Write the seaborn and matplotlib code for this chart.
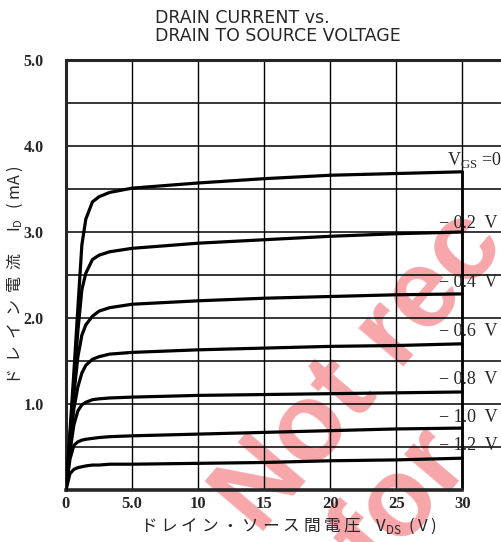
import pandas as pd
import seaborn as sns
from matplotlib import pyplot as plt

# drain voltage points (V) shared by all curves
vds = [0, 0.3, 0.6, 0.9, 1.2, 1.5, 2.0, 2.5, 3.3, 5, 10, 15, 20, 25, 30]

# drain current (mA) for each gate-source voltage
id_0 = [0, 0.68, 1.38, 2.12, 2.85, 3.15, 3.35, 3.41, 3.46, 3.51, 3.57, 3.62, 3.66, 3.68, 3.70]
id_02 = [0, 0.62, 1.25, 1.85, 2.33, 2.52, 2.68, 2.73, 2.77, 2.81, 2.87, 2.91, 2.95, 2.98, 3.00]
id_04 = [0, 0.58, 1.12, 1.55, 1.80, 1.92, 2.02, 2.08, 2.12, 2.16, 2.20, 2.23, 2.25, 2.27, 2.28]
id_06 = [0, 0.52, 0.95, 1.20, 1.36, 1.45, 1.52, 1.55, 1.58, 1.60, 1.63, 1.65, 1.67, 1.68, 1.70]
id_08 = [0, 0.45, 0.76, 0.92, 0.99, 1.02, 1.05, 1.06, 1.07, 1.08, 1.10, 1.11, 1.12, 1.13, 1.14]
id_10 = [0, 0.36, 0.52, 0.56, 0.58, 0.59, 0.60, 0.61, 0.62, 0.63, 0.65, 0.67, 0.69, 0.71, 0.72]
id_12 = [0, 0.19, 0.24, 0.26, 0.27, 0.28, 0.29, 0.29, 0.30, 0.30, 0.31, 0.32, 0.34, 0.35, 0.37]

vgs_names = ["0", "-0.2", "-0.4", "-0.6", "-0.8", "-1.0", "-1.2"]
curves = [id_0, id_02, id_04, id_06, id_08, id_10, id_12]

# curve labels and where they sit (V, mA)
label_texts = ["V$_{\\mathregular{GS}}$ =0", "\u2212 0.2  V", "\u2212 0.4  V", "\u2212 0.6  V",
               "\u2212 0.8  V", "\u2212 1.0  V", "\u2212 1.2  V"]
label_x = [28.8, 28.2, 28.2, 28.2, 28.2, 28.2, 28.2]
label_y = [3.84, 3.10, 2.41, 1.84, 1.29, 0.84, 0.52]

xticks = [0, 5, 10, 15, 20, 25, 30]
xtick_labels = ["0", "5.0", "10", "15", "20", "25", "30"]
yticks = [1, 2, 3, 4, 5]
ytick_labels = ["1.0", "2.0", "3.0", "4.0", "5.0"]

sns.set_style("white")
plt.rcParams['font.family'] = ['Noto Sans CJK JP', 'DejaVu Sans']

rows = []
for name, cur in zip(vgs_names, curves):
    for v, i in zip(vds, cur):
        rows.append({"VDS": v, "ID": i, "VGS": name})
df = pd.DataFrame(rows)

fig = plt.figure(figsize=(5.02, 5.42), dpi=100)
ax = fig.add_axes([66 / 502, 52 / 542, 436 / 502, 430 / 542])

# watermark, kept underneath the grid and curves
wm = dict(fontsize=80, fontweight="bold", color="#f7a6aa", rotation=49.6,
          rotation_mode="anchor", ha="left", va="baseline",
          family="Liberation Sans", transform=fig.transFigure, zorder=0, clip_on=False)
ax.text(0.516, 0.0105, "Not rec", **wm)
ax.text(0.75, -0.0637, "for", **wm)

sns.lineplot(data=df, x="VDS", y="ID", hue="VGS", palette=["black"] * 7,
             linewidth=2.3, legend=False, ax=ax, zorder=3, sort=False)

ax.set_xlim(0, 33.0)
ax.set_ylim(0, 5.0)

# grid: every 5 V and every 0.5 mA
for v in xticks[1:]:
    ax.axvline(v, color="black", lw=1.0, zorder=1)
ax.axvline(30, ymax=id_0[-1] / 5.0, color="black", lw=2.0, zorder=2)
for k in range(1, 10):
    ax.axhline(k * 0.5, color="black", lw=1.1, zorder=1)

for s in ["left", "top"]:
    ax.spines[s].set_linewidth(2.2)
ax.spines["bottom"].set_linewidth(2.6)
ax.spines["bottom"].set_bounds(0, 30)
ax.spines["right"].set_visible(False)

ax.set_xticks(xticks)
ax.set_xticklabels(xtick_labels, family="Liberation Serif", fontweight="bold", fontsize=12)
ax.set_yticks(yticks)
ax.set_yticklabels(ytick_labels, family="Liberation Serif", fontweight="bold", fontsize=11.5)
ax.tick_params(length=0, pad=4)
ax.tick_params(axis="y", pad=16)

for t, x, y in zip(label_texts, label_x, label_y):
    ax.text(x, y, t, family="Liberation Serif", fontsize=13, va="center", ha="left",
            zorder=4, clip_on=False)

ax.set_xlabel("ド レ イ ン ・ ソ ー ス 間 電 圧    V$_{\\mathregular{DS}}$  ( V )", fontsize=12)
ax.xaxis.set_label_coords(0.511, -0.083)
ax.xaxis.label.set_va("center")
ax.set_ylabel("ド  レ  イ  ン  電  流      I$_{\\mathregular{D}}$   ( mA )", fontsize=11.5)
ax.yaxis.set_label_coords(-0.117, 0.5)
ax.yaxis.label.set_va("center")

fig.text(155 / 502, 1 - 18 / 542, "DRAIN CURRENT vs.", family="DejaVu Sans",
         fontsize=12.5, va="center", ha="left")
fig.text(155 / 502, 1 - 36 / 542, "DRAIN TO SOURCE VOLTAGE", family="DejaVu Sans",
         fontsize=12.5, va="center", ha="left")

plt.savefig("out.png", dpi=100)
